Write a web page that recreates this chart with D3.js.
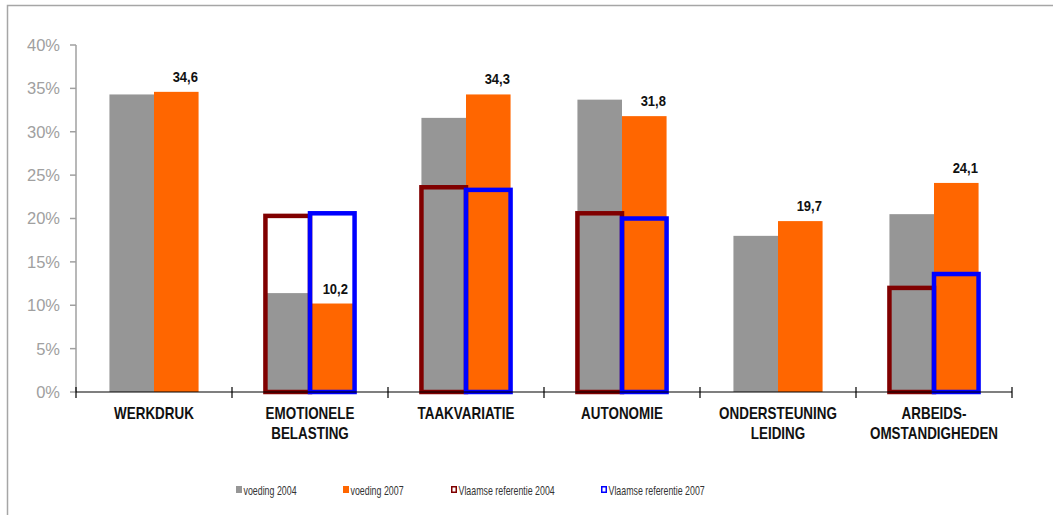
<!DOCTYPE html>
<html>
<head>
<meta charset="utf-8">
<script src="https://cdn.jsdelivr.net/npm/d3@7"></script>
<style>
  body { margin: 0; background: #fff; }
  svg { display: block; }
  text { font-family: "Liberation Sans", Arial, sans-serif; }
</style>
</head>
<body>
<svg width="1053" height="515"></svg>
<script>
// categories (each entry = lines of the axis label)
const categories = [
  ["WERKDRUK"],
  ["EMOTIONELE", "BELASTING"],
  ["TAAKVARIATIE"],
  ["AUTONOMIE"],
  ["ONDERSTEUNING", "LEIDING"],
  ["ARBEIDS-", "OMSTANDIGHEDEN"]
];
const voeding2004 = [34.3, 11.4, 31.6, 33.7, 18.0, 20.5];
const voeding2007 = [34.6, 10.2, 34.3, 31.8, 19.7, 24.1];
// null = no reference value shown
const vlaams2004 = [null, 20.3, 23.6, 20.6, null, 12.0];
const vlaams2007 = [null, 20.6, 23.3, 20.0, null, 13.6];
const yTicks = [0, 5, 10, 15, 20, 25, 30, 35, 40];
const legendLabels = ["voeding 2004", "voeding 2007", "Vlaamse referentie 2004", "Vlaamse referentie 2007"];

const svg = d3.select("svg");

// outer frame
svg.append("path")
  .attr("d", "M7.5,520 L7.5,5.5 L1060,5.5")
  .attr("fill", "none")
  .attr("stroke", "#a6a6a6")
  .attr("stroke-width", 1.5);

const catIds = categories.map((c, i) => i);

const x0 = d3.scaleBand().domain(catIds).range([76, 1012]).padding(0);
const x1 = d3.scaleBand().domain(["a", "b"]).range([0, x0.bandwidth()])
  .paddingInner(0).paddingOuter(0.75);
const y = d3.scaleLinear().domain([0, 40]).range([392, 45]);

// y axis
const yAxis = svg.append("g").attr("transform", "translate(76,0)");
yAxis.append("line")
  .attr("y1", y(40)).attr("y2", y(0))
  .attr("stroke", "#a0a0a0").attr("stroke-width", 1.5);
yAxis.selectAll("line.tick").data(yTicks).enter().append("line")
  .attr("class", "tick")
  .attr("x1", -6).attr("x2", 0)
  .attr("y1", d => y(d)).attr("y2", d => y(d))
  .attr("stroke", "#a0a0a0").attr("stroke-width", 1.5);
yAxis.selectAll("text").data(yTicks).enter().append("text")
  .attr("x", -16).attr("y", d => y(d))
  .attr("dy", "0.36em")
  .attr("text-anchor", "end")
  .attr("font-size", 16.5)
  .attr("fill", "#a0a0a0")
  .text(d => d + "%");

// bars
const bars = svg.append("g");
bars.selectAll("rect.v04").data(voeding2004).enter().append("rect")
  .attr("x", (d, i) => x0(i) + x1("a"))
  .attr("y", d => y(d))
  .attr("width", x1.bandwidth())
  .attr("height", d => y(0) - y(d))
  .attr("fill", "#969696");
bars.selectAll("rect.v07").data(voeding2007).enter().append("rect")
  .attr("x", (d, i) => x0(i) + x1("b"))
  .attr("y", d => y(d))
  .attr("width", x1.bandwidth())
  .attr("height", d => y(0) - y(d))
  .attr("fill", "#ff6600");

// reference outlines
const refs = [
  { values: vlaams2004, key: "a", color: "#800000" },
  { values: vlaams2007, key: "b", color: "#0000ff" }
];
refs.forEach(r => {
  bars.append("g").selectAll("rect")
    .data(r.values.map((v, i) => ({ v, i })).filter(d => d.v !== null))
    .enter().append("rect")
    .attr("x", d => x0(d.i) + x1(r.key))
    .attr("y", d => y(d.v))
    .attr("width", x1.bandwidth())
    .attr("height", d => y(0) - y(d.v))
    .attr("fill", "none")
    .attr("stroke", r.color)
    .attr("stroke-width", 4.5);
});

// x axis
const xAxis = svg.append("g");
xAxis.append("line")
  .attr("x1", 76).attr("x2", 1012)
  .attr("y1", y(0)).attr("y2", y(0))
  .attr("stroke", "#000").attr("stroke-width", 1.2);
const bounds = catIds.map(i => x0(i)).concat([x0.range()[1]]);
xAxis.selectAll("line.tick").data(bounds).enter().append("line")
  .attr("class", "tick")
  .attr("x1", d => d).attr("x2", d => d)
  .attr("y1", y(0) - 5).attr("y2", y(0) + 6)
  .attr("stroke", "#000").attr("stroke-width", 1.2);

// narrow look: squeeze text horizontally
const catLabels = xAxis.selectAll("g.cat").data(categories).enter().append("g")
  .attr("class", "cat")
  .attr("transform", (d, i) => `translate(${x0(i) + x0.bandwidth() / 2},0) scale(0.84,1)`)
  .append("text")
  .attr("text-anchor", "middle")
  .attr("font-size", 16)
  .attr("font-weight", "bold")
  .attr("fill", "#111");
catLabels.selectAll("tspan").data(d => d).enter().append("tspan")
  .attr("x", 0)
  .attr("y", (d, j) => 419 + j * 20)
  .text(d => d);

// value labels above voeding 2007 bars
svg.append("g").selectAll("g").data(voeding2007).enter().append("g")
  .attr("transform", (d, i) => {
    const inside = vlaams2007[i] !== null && vlaams2007[i] > d;
    const cx = x0(i) + x1("b") + x1.bandwidth() / 2 + (inside ? 3 : 9);
    return `translate(${cx},${y(d) - 10}) scale(0.84,1)`;
  })
  .append("text")
  .attr("text-anchor", "middle")
  .attr("font-size", 15.5)
  .attr("font-weight", "bold")
  .attr("fill", "#111")
  .text(d => d3.format(".1f")(d).replace(".", ","));

// legend
const legendX = [236, 343, 451, 601];
const legendStyle = [
  { fill: "#969696", stroke: "none" },
  { fill: "#ff6600", stroke: "none" },
  { fill: "#fff", stroke: "#800000" },
  { fill: "#fff", stroke: "#0000ff" }
];
const legend = svg.append("g").attr("transform", "translate(0,490)");
const li = legend.selectAll("g").data(legendLabels).enter().append("g")
  .attr("transform", (d, i) => `translate(${legendX[i]},0)`);
li.append("rect")
  .attr("x", (d, i) => legendStyle[i].stroke === "none" ? 0 : 0.75)
  .attr("y", (d, i) => legendStyle[i].stroke === "none" ? -4 : -3.25)
  .attr("width", (d, i) => legendStyle[i].stroke === "none" ? 6 : 4.5)
  .attr("height", (d, i) => legendStyle[i].stroke === "none" ? 7 : 5.5)
  .attr("fill", (d, i) => legendStyle[i].fill)
  .attr("stroke", (d, i) => legendStyle[i].stroke)
  .attr("stroke-width", 1.5);
li.append("g")
  .attr("transform", "translate(7.5,0) scale(0.68,1)")
  .append("text")
  .attr("y", 0)
  .attr("dy", "0.36em")
  .attr("font-size", 13)
  .attr("fill", "#333")
  .text(d => d);
</script>
</body>
</html>
